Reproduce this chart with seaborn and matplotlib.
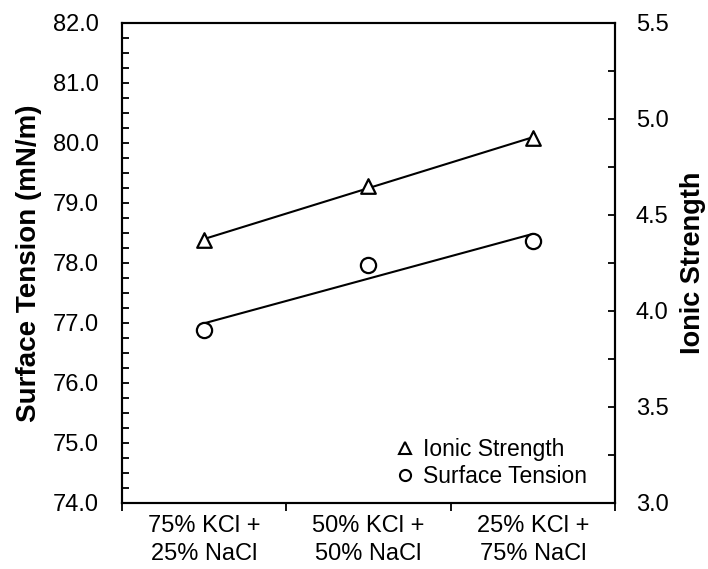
import numpy as np
import pandas as pd
import matplotlib
matplotlib.use("Agg")
import matplotlib.pyplot as plt
import seaborn as sns
from matplotlib.lines import Line2D
from matplotlib.ticker import MultipleLocator, FixedLocator, FormatStrFormatter

sns.set_theme(style="white")
plt.rcParams['font.family'] = ['Liberation Sans', 'DejaVu Sans']
plt.rcParams.update({'text.color': 'black', 'axes.labelcolor': 'black',
                     'xtick.color': 'black', 'ytick.color': 'black'})

# data
categories = ["75% KCl +\n25% NaCl", "50% KCl +\n50% NaCl", "25% KCl +\n75% NaCl"]
surface_tension = [76.88, 77.97, 78.37]
ionic_strength = [4.37, 4.65, 4.90]

df = pd.DataFrame({
    "pos": np.arange(len(categories)),
    "surface_tension": surface_tension,
    "ionic_strength": ionic_strength,
})

TICK_FS = 17
LABEL_FS = 19.5

fig = plt.figure(figsize=(7.08, 5.69), dpi=100)
ax = fig.add_axes([0.1723, 0.116, 0.6963, 0.8436])
ax2 = ax.twinx()

# surface tension on the left axis
sns.regplot(data=df, x="pos", y="surface_tension", ax=ax, ci=None, scatter=False,
            line_kws={"color": "black", "lw": 1.5})
sns.scatterplot(data=df, x="pos", y="surface_tension", ax=ax, marker="o", s=120,
                facecolor="white", edgecolor="black", linewidth=1.6, zorder=5)

# ionic strength on the right axis
sns.regplot(data=df, x="pos", y="ionic_strength", ax=ax2, ci=None, scatter=False,
            line_kws={"color": "black", "lw": 1.5})
sns.scatterplot(data=df, x="pos", y="ionic_strength", ax=ax2, marker="^", s=110,
                facecolor="white", edgecolor="black", linewidth=1.6, zorder=5)

ax.set_xlim(-0.5, 2.5)
ax.set_ylim(74, 82)
ax2.set_ylim(3.0, 5.5)

ax.yaxis.set_major_locator(MultipleLocator(1.0))
ax.yaxis.set_minor_locator(MultipleLocator(0.25))
ax.yaxis.set_major_formatter(FormatStrFormatter("%.1f"))
ax2.yaxis.set_major_locator(MultipleLocator(0.5))
ax2.yaxis.set_minor_locator(MultipleLocator(0.25))
ax2.yaxis.set_major_formatter(FormatStrFormatter("%.1f"))

# category labels centred, tick marks at the boundaries
ax.xaxis.set_major_locator(FixedLocator([-0.5, 0.5, 1.5, 2.5]))
ax.set_xticklabels([])
ax.xaxis.set_minor_locator(FixedLocator(df["pos"]))
ax.set_xticklabels(categories, minor=True, linespacing=1.3)
ax.tick_params(axis="x", which="major", direction="out", length=6, width=1.3, bottom=True)
ax.tick_params(axis="x", which="minor", length=0, pad=9, labelsize=TICK_FS)

ax.tick_params(axis="y", which="both", direction="in", left=True, labelsize=TICK_FS,
               width=1.3, length=5, pad=16.5)
ax2.tick_params(axis="y", which="both", direction="in", right=True, labelsize=TICK_FS,
                width=1.3, length=5, pad=15)

for a in (ax, ax2):
    for sp in a.spines.values():
        sp.set_color("black")
        sp.set_linewidth(1.5)

ax.set_xlabel("")
ax.set_ylabel("Surface Tension (mN/m)", fontsize=20, fontweight="bold", labelpad=8)
ax2.set_ylabel("Ionic Strength", fontsize=LABEL_FS, fontweight="bold", labelpad=8)

handles = [
    Line2D([], [], ls="none", marker="^", ms=8, mfc="white", mec="black", mew=1.5),
    Line2D([], [], ls="none", marker="o", ms=8, mfc="white", mec="black", mew=1.5),
]
ax.legend(handles, ["Ionic Strength", "Surface Tension"], loc="lower right",
          bbox_to_anchor=(0.985, -0.012), frameon=False, fontsize=16.5,
          handletextpad=0.3, handlelength=1.0, labelspacing=0.2)

fig.savefig("out.png", dpi=100)
